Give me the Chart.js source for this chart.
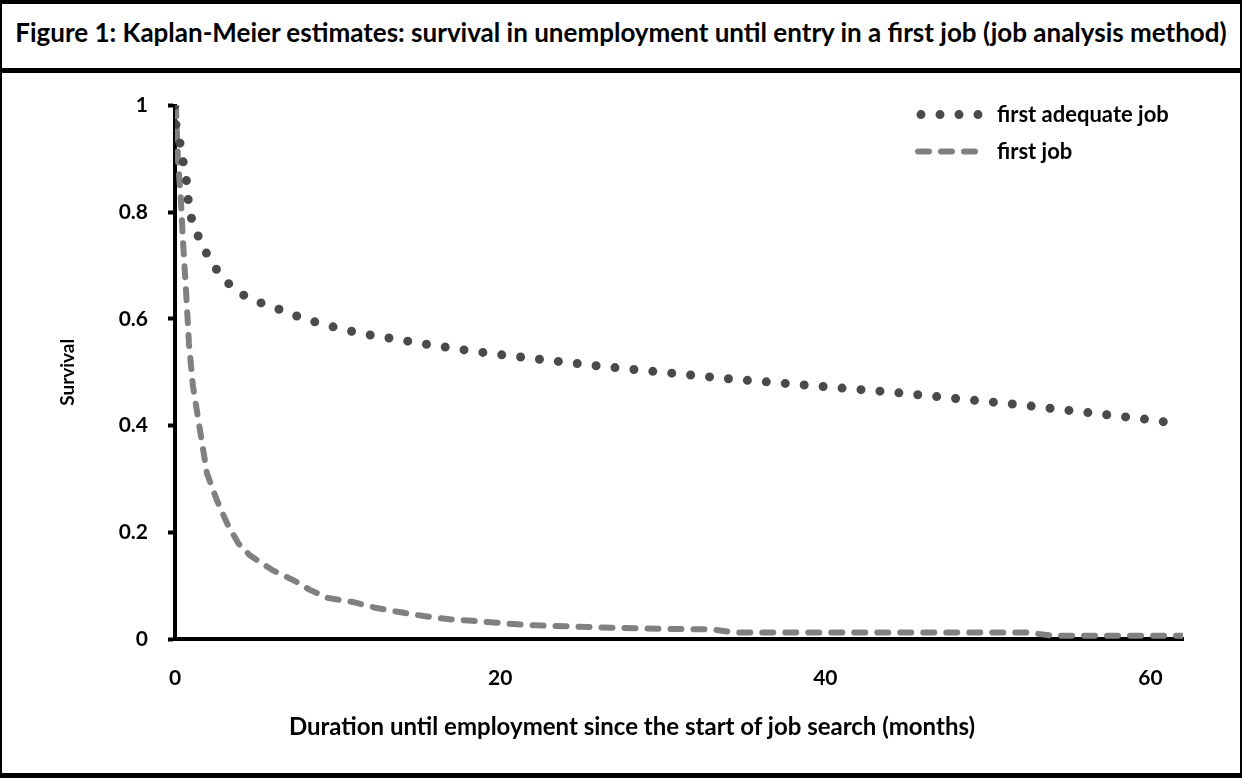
<!DOCTYPE html>
<html>
<head>
<meta charset="utf-8">
<script src="https://cdn.jsdelivr.net/npm/chart.js@4.4.1/dist/chart.umd.min.js"></script>
<style>
    html, body { margin: 0; padding: 0; background: #fff; }
    #frame {
        position: relative;
        width: 1242px; height: 778px; box-sizing: border-box;
        border-top: 4px solid #000; border-bottom: 5px solid #000;
        border-left: 2px solid #000; border-right: 2px solid #000;
        font-family: Lato, "Open Sans", sans-serif;
    }
    #title {
        height: 69px; box-sizing: border-box; padding-bottom: 8px;
        border-bottom: 5px solid #000;
        display: flex; align-items: center; justify-content: center;
        font-weight: bold; font-size: 26px; color: #000; white-space: nowrap;
    }
    #chart { display: block; }
    #xTitle {
        position: absolute; left: 630px; top: 721px; transform: translate(-50%, -50%);
        font-weight: bold; font-size: 24px; color: #000; white-space: nowrap;
    }
</style>
</head>
<body>
<div id="frame">
    <div id="title">Figure 1: Kaplan-Meier estimates: survival in unemployment until entry in a first job (job analysis method)</div>
    <canvas id="chart" width="1238" height="700"></canvas>
    <div id="xTitle">Duration until employment since the start of job search (months)</div>
</div>
<script>
// series: first adequate job (dotted)
const ADEQ_MONTHS = [0, 0.06, 0.3, 0.5, 0.7, 0.8, 1.0, 1.4, 1.9, 2.5, 3.2, 4, 5, 6, 7, 8, 9, 10, 11, 12, 13,
    14, 16, 18, 20, 22, 24, 26, 28, 30, 32, 34, 36, 38, 40, 42, 44, 46, 48, 50, 52, 54, 56, 58, 60, 61.8];
const ADEQ_SURV = [1.0, 0.964, 0.931, 0.895, 0.86, 0.826, 0.79, 0.757, 0.725, 0.695, 0.669, 0.648, 0.633, 0.623, 0.611, 0.600, 0.591, 0.583, 0.576, 0.570, 0.565,
    0.560, 0.550, 0.541, 0.533, 0.526, 0.519, 0.512, 0.506, 0.500, 0.494, 0.488, 0.483, 0.478, 0.473, 0.468, 0.463, 0.457, 0.451, 0.445, 0.439, 0.432, 0.425, 0.418, 0.411, 0.403];

// series: first job (dashed)
const JOB_MONTHS = [0, 0.06, 0.18, 0.37, 0.49, 0.68, 0.86, 1.1, 1.54, 1.97, 2.58, 3.2, 3.9, 4.6, 6, 7.3, 8.3, 9.4, 11, 12.4,
    13.9, 15.3, 16.9, 18.3, 20, 21.7, 24, 27, 30, 33, 34.5, 40, 45, 50, 52.5, 54, 58, 62];
const JOB_SURV = [1.0, 0.994, 0.90, 0.82, 0.746, 0.652, 0.553, 0.475, 0.391, 0.31, 0.26, 0.217, 0.179, 0.157, 0.129, 0.11, 0.092, 0.077, 0.069, 0.058,
    0.050, 0.043, 0.037, 0.034, 0.030, 0.026, 0.024, 0.021, 0.019, 0.018, 0.012, 0.012, 0.012, 0.012, 0.012, 0.006, 0.006, 0.006];

const SERIES_LABELS = ['first adequate job', 'first job'];
const X_TICKS = [0, 20, 40, 60];
const X_MAX = 62;

const FONT = 'Lato, "Open Sans", sans-serif';

const toPoints = (xs, ys) => xs.map((x, i) => ({ x, y: ys[i] }));

// legend inside the plot area, top right, drawn with each dataset's own line style
const lineLegend = {
    id: 'lineLegend',
    afterDraw(chart) {
        const { ctx, chartArea } = chart;
        const x0 = chartArea.right - 262;
        const x1 = chartArea.right - 202;
        const tx = chartArea.right - 186;
        chart.data.datasets.forEach((ds, i) => {
            const y = chartArea.top + 9 + i * 37;
            ctx.save();
            ctx.strokeStyle = ds.borderColor;
            ctx.lineWidth = ds.borderWidth;
            ctx.lineCap = ds.borderCapStyle;
            ctx.setLineDash(ds.borderDash);
            ctx.beginPath();
            ctx.moveTo(x0 + (i === 1 ? -3 : 0), y);
            ctx.lineTo(x1 + (i === 1 ? 2 : 0), y);
            ctx.stroke();
            ctx.setLineDash([]);
            ctx.fillStyle = '#000';
            ctx.font = 'bold 22px ' + FONT;
            ctx.textBaseline = 'middle';
            ctx.textAlign = 'left';
            ctx.fillText(ds.label, tx, y);
            ctx.restore();
        });
    }
};

new Chart(document.getElementById('chart'), {
    type: 'line',
    data: {
        datasets: [
            {
                label: SERIES_LABELS[0],
                data: toPoints(ADEQ_MONTHS, ADEQ_SURV),
                borderColor: '#4a4a4a',
                borderWidth: 9,
                borderDash: [0, 19],
                borderCapStyle: 'round',
                pointRadius: 0,
                tension: 0,
                fill: false
            },
            {
                label: SERIES_LABELS[1],
                data: toPoints(JOB_MONTHS, JOB_SURV),
                borderColor: '#808080',
                borderWidth: 6,
                borderDash: [11, 12],
                borderCapStyle: 'round',
                pointRadius: 0,
                tension: 0,
                fill: false
            }
        ]
    },
    options: {
        responsive: false,
        animation: false,
        events: [],
        layout: { padding: { top: 31, right: 57, left: 0, bottom: 0 } },
        scales: {
            x: {
                type: 'linear',
                min: 0,
                max: X_MAX,
                afterFit: s => { s.height = 134; },
                afterBuildTicks: s => { s.ticks = X_TICKS.map(v => ({ value: v })); },
                grid: { display: false },
                border: { display: true, color: '#000', width: 4 },
                ticks: { padding: 19, color: '#000', font: { family: FONT, size: 21, weight: 'bold' }, maxRotation: 0 }
            },
            y: {
                min: 0,
                max: 1,
                afterFit: s => { s.width = 173; },
                grid: { display: true, drawOnChartArea: false, drawTicks: true, tickLength: 7, tickWidth: 4, tickColor: '#000' },
                border: { display: true, color: '#000', width: 4 },
                ticks: {
                    stepSize: 0.2, padding: 20, color: '#000',
                    font: { family: FONT, size: 21, weight: 'bold' },
                    callback: v => String(+v.toFixed(1))
                },
                title: {
                    display: true,
                    text: 'Survival',
                    color: '#000',
                    font: { family: FONT, size: 19, weight: 'bold' },
                    padding: { top: 54, bottom: 0 }
                }
            }
        },
        plugins: {
            legend: { display: false },
            tooltip: { enabled: false }
        }
    },
    plugins: [lineLegend]
});
</script>
</body>
</html>
